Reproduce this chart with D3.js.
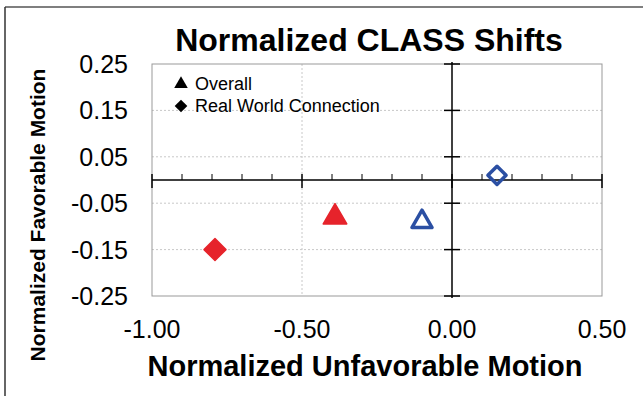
<!DOCTYPE html>
<html><head><meta charset="utf-8">
<script src="https://cdn.jsdelivr.net/npm/d3@7"></script>
<style>html,body{margin:0;padding:0;background:#fff;}svg{display:block;font-family:Arial,"Liberation Sans",sans-serif;}</style>
</head><body>
<script>
const seriesNames = ["Overall", "Real World Connection"];
const xValues = [-0.39, -0.79, -0.10, 0.15];
const yValues = [-0.08, -0.15, -0.09, 0.01];
const pointSeries = ["Overall", "Real World Connection", "Overall", "Real World Connection"];
const pointGroup = ["red", "red", "blue", "blue"];
const xTicks = [-1.0, -0.5, 0.0, 0.5];
const yTicks = [0.25, 0.15, 0.05, -0.05, -0.15, -0.25];
const xMinor = [-0.9, -0.8, -0.7, -0.6, -0.4, -0.3, -0.2, -0.1, 0.1, 0.2, 0.3, 0.4];

const W = 643, H = 396;
const svg = d3.select("body").append("svg").attr("width", W).attr("height", H);
const L = 152, R = 602, T = 64, B = 296;
const x = d3.scaleLinear().domain([-1, 0.5]).range([L, R]);
const y = d3.scaleLinear().domain([-0.25, 0.25]).range([B, T]);
const colors = {red: "#e6232b", blue: "#2b4fa3"};
const fmt = d => d3.format(".2f")(d).replace("\u2212", "-");

// outer frame (top and left)
svg.append("line").attr("x1", 5).attr("x2", W).attr("y1", 7).attr("y2", 7).attr("stroke", "#555").attr("stroke-width", 1.5);
svg.append("line").attr("x1", 5).attr("x2", 5).attr("y1", 7).attr("y2", H).attr("stroke", "#333").attr("stroke-width", 1.5);

// gridlines
svg.append("g").selectAll("line").data(yTicks.filter(d => Math.abs(d) < 0.25)).join("line")
  .attr("x1", L).attr("x2", R).attr("y1", d => y(d)).attr("y2", d => y(d))
  .attr("stroke", "#c8c8c8").attr("stroke-width", 1).attr("stroke-dasharray", "2,2");
svg.append("line").attr("x1", x(-0.5)).attr("x2", x(-0.5)).attr("y1", T).attr("y2", B)
  .attr("stroke", "#c8c8c8").attr("stroke-width", 1).attr("stroke-dasharray", "2,2");

// plot border
svg.append("rect").attr("x", L).attr("y", T).attr("width", R - L).attr("height", B - T)
  .attr("fill", "none").attr("stroke", "#999").attr("stroke-width", 1);

// x axis at y=0
const x0 = x(0), y0 = y(0);
svg.append("line").attr("x1", L).attr("x2", R).attr("y1", y0).attr("y2", y0).attr("stroke", "#000").attr("stroke-width", 1.5);
svg.append("g").selectAll("line").data(xTicks).join("line")
  .attr("x1", d => x(d)).attr("x2", d => x(d)).attr("y1", y0 - 6).attr("y2", y0 + 8)
  .attr("stroke", "#000").attr("stroke-width", 1.5);
svg.append("g").selectAll("line").data(xMinor).join("line")
  .attr("x1", d => x(d)).attr("x2", d => x(d)).attr("y1", y0 - 6).attr("y2", y0)
  .attr("stroke", "#000").attr("stroke-width", 1);
// y axis at x=0
svg.append("line").attr("x1", x0).attr("x2", x0).attr("y1", T - 2).attr("y2", B + 2).attr("stroke", "#000").attr("stroke-width", 1.5);
svg.append("g").selectAll("line").data(yTicks).join("line")
  .attr("x1", x0 - 8).attr("x2", x0 + 8).attr("y1", d => y(d)).attr("y2", d => y(d))
  .attr("stroke", "#000").attr("stroke-width", 1.5);

// tick labels
svg.append("g").selectAll("text").data(yTicks).join("text")
  .attr("x", 128).attr("y", d => y(d)).attr("dy", "0.36em").attr("text-anchor", "end")
  .attr("font-size", 25).attr("fill", "#000").text(fmt);
svg.append("g").selectAll("text").data(xTicks).join("text")
  .attr("x", d => x(d)).attr("y", 338).attr("text-anchor", "middle")
  .attr("font-size", 25).attr("fill", "#000").text(fmt);

// titles
svg.append("text").attr("x", 369).attr("y", 51).attr("text-anchor", "middle")
  .attr("font-size", 32).attr("font-weight", "bold").text("Normalized CLASS Shifts");
svg.append("text").attr("x", 365).attr("y", 376).attr("text-anchor", "middle")
  .attr("font-size", 29).attr("font-weight", "bold").text("Normalized Unfavorable Motion");
svg.append("text").attr("transform", "translate(45,215) rotate(-90)").attr("text-anchor", "middle")
  .attr("font-size", 21).attr("font-weight", "bold").text("Normalized Favorable Motion");

const isTri = s => s === "Overall";
const markPath = (s, size) => d3.symbol().type(isTri(s) ? d3.symbolTriangle : d3.symbolSquare).size(size)();
const rot = s => isTri(s) ? "" : " rotate(45)";

// points
svg.append("g").selectAll("path").data(xValues.map((v, i) => i)).join("path")
  .attr("transform", i => `translate(${x(xValues[i])},${y(yValues[i])})` + rot(pointSeries[i]))
  .attr("d", i => {
    const filled = pointGroup[i] === "red";
    const size = isTri(pointSeries[i]) ? (filled ? 240 : 175) : (filled ? 240 : 165);
    return markPath(pointSeries[i], size);
  })
  .attr("fill", i => pointGroup[i] === "red" ? colors.red : "none")
  .attr("stroke", i => colors[pointGroup[i]])
  .attr("stroke-width", i => pointGroup[i] === "red" ? 1.5 : 3.5)
  .attr("stroke-linejoin", "round");

// legend
const lg = svg.append("g");
seriesNames.forEach((s, i) => {
  const cy = i === 0 ? 84 : 106;
  lg.append("path").attr("transform", `translate(181,${cy})` + rot(s))
    .attr("d", markPath(s, isTri(s) ? 80 : 80)).attr("fill", "#000");
  lg.append("text").attr("x", 195).attr("y", cy + 6).attr("font-size", 18).attr("fill", "#000").text(s);
});
</script>
</body></html>
